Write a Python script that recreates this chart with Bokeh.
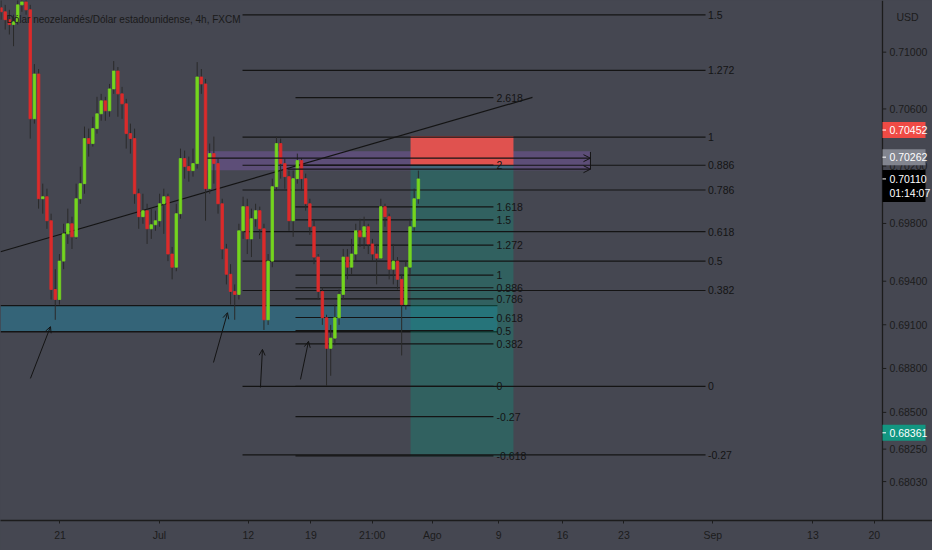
import math
from bokeh.plotting import figure
from bokeh.models import (Range1d, FixedTicker, Label, Arrow, OpenHead, ColumnDataSource)
from bokeh.core.properties import value
from bokeh.embed import file_html
from bokeh.resources import INLINE

BG = "#454751"
FONT = "Liberation Sans"
INK = "#141414"
AXIS_INK = "#1c1c1c"

# ---------------- data: NZD/USD candles -------------
first_open = 0.71314
closes = [
    0.71286, 0.71230, 0.71195, 0.71216, 0.71335, 0.71356, 0.71300, 0.70531, 0.70846, 0.69972,
    0.69986, 0.69819, 0.69343, 0.69274, 0.69539, 0.69728, 0.69798, 0.69707, 0.69972, 0.70077,
    0.70392, 0.70357, 0.70462, 0.70566, 0.70657, 0.70587, 0.70741, 0.70867, 0.70706, 0.70636,
    0.70427, 0.70392, 0.70007, 0.69847, 0.69889, 0.69763, 0.69791, 0.69819, 0.69937, 0.69986,
    0.69588, 0.69497, 0.69868, 0.70252, 0.70196, 0.70168, 0.70217, 0.70825, 0.70776, 0.70042,
    0.70287, 0.70217, 0.69937, 0.69623, 0.69448, 0.69329, 0.69309, 0.69749, 0.69917, 0.69693,
    0.69833, 0.69889, 0.69763, 0.69134, 0.69539, 0.70056, 0.70357, 0.70217, 0.70126, 0.69819,
    0.70112, 0.70238, 0.70112, 0.69937, 0.69777, 0.69567, 0.69329, 0.69148, 0.68938, 0.69008,
    0.69148, 0.69309, 0.69567, 0.69497, 0.69588, 0.69749, 0.69707, 0.69777, 0.69658, 0.69588,
    0.69560, 0.69917, 0.69847, 0.69483, 0.69539, 0.69413, 0.69239, 0.69497, 0.69777, 0.69972,
    0.70110]
highs = [
    0.71370, 0.71335, 0.71300, 0.71265, 0.71405, 0.71426, 0.71405, 0.71335, 0.70916, 0.70881,
    0.70077, 0.70042, 0.69868, 0.69483, 0.69588, 0.69798, 0.69903, 0.69847, 0.70077, 0.70196,
    0.70476, 0.70462, 0.70545, 0.70685, 0.70706, 0.70685, 0.70776, 0.70937, 0.70895, 0.70755,
    0.70671, 0.70497, 0.70462, 0.70042, 0.70007, 0.69937, 0.69903, 0.69889, 0.70007, 0.70042,
    0.70007, 0.69637, 0.69937, 0.70322, 0.70308, 0.70266, 0.70322, 0.70930, 0.70881, 0.70811,
    0.70357, 0.70406, 0.70252, 0.69972, 0.69658, 0.69518, 0.69378, 0.69798, 0.69986, 0.69972,
    0.69903, 0.69937, 0.69917, 0.69798, 0.69588, 0.70112, 0.70406, 0.70392, 0.70252, 0.70168,
    0.70168, 0.70287, 0.70252, 0.70147, 0.69972, 0.69819, 0.69588, 0.69357, 0.69169, 0.69099,
    0.69239, 0.69343, 0.69623, 0.69623, 0.69693, 0.69798, 0.69833, 0.69847, 0.69798, 0.69693,
    0.69658, 0.69972, 0.69937, 0.69868, 0.69658, 0.69567, 0.69448, 0.69539, 0.69833, 0.70042,
    0.70168]
lows = [
    0.71230, 0.71160, 0.71125, 0.71042, 0.71195, 0.71286, 0.71265, 0.70392, 0.70497, 0.69903,
    0.69868, 0.69763, 0.69274, 0.69134, 0.69239, 0.69483, 0.69658, 0.69623, 0.69693, 0.69937,
    0.70007, 0.70266, 0.70336, 0.70427, 0.70517, 0.70517, 0.70545, 0.70706, 0.70545, 0.70531,
    0.70322, 0.70287, 0.69937, 0.69763, 0.69798, 0.69658, 0.69693, 0.69749, 0.69777, 0.69728,
    0.69539, 0.69413, 0.69469, 0.69833, 0.70112, 0.70091, 0.70126, 0.70182, 0.70706, 0.69819,
    0.70007, 0.70077, 0.69868, 0.69553, 0.69378, 0.69239, 0.69134, 0.69274, 0.69693, 0.69588,
    0.69567, 0.69777, 0.69693, 0.69064, 0.69099, 0.69497, 0.70028, 0.70112, 0.70042, 0.69749,
    0.69707, 0.70077, 0.70028, 0.69889, 0.69721, 0.69518, 0.69274, 0.69099, 0.68680, 0.68750,
    0.68959, 0.69099, 0.69274, 0.69413, 0.69448, 0.69539, 0.69637, 0.69623, 0.69588, 0.69539,
    0.69378, 0.69553, 0.69777, 0.69413, 0.69378, 0.69343, 0.68889, 0.69204, 0.69448, 0.69749,
    0.69937]
bar_start = -4.75          # trading days after Mon 21 Jun
bars_per_day = 3

# time axis (trading days after 21 Jun) and labels
x_tick_pos = [-0.04, 7.9, 15.0, 20.0, 24.9, 29.7, 35.0, 40.1, 45.0, 52.1, 60.1, 65.0]
x_tick_labels = ["21", "Jul", "12", "19", "21:00", "Ago", "9", "16", "23", "Sep", "13", "20"]
y_ticks = [0.71, 0.706, 0.702, 0.698, 0.694, 0.691, 0.688, 0.685, 0.6825, 0.6803]
y_tick_labels = ["0.71000", "0.70600", "0.70200", "0.69800", "0.69400", "0.69100",
                 "0.68800", "0.68500", "0.68250", "0.68030"]

# drawings
fib1_start, fib1_end, fib1_p0, fib1_p1 = 14.54, 51.52, 0.68677, 0.70402
fib1_levels = [1.5, 1.272, 1, 0.886, 0.786, 0.618, 0.5, 0.382, 0, -0.27]
fib1_text = ["1.5", "1.272", "1", "0.886", "0.786", "0.618", "0.5", "0.382", "0", "-0.27"]
fib2_start, fib2_end, fib2_p0, fib2_p1 = 18.77, 34.58, 0.68677, 0.69442
fib2_levels = [2.618, 2, 1.618, 1.5, 1.272, 1, 0.886, 0.786, 0.618, 0.5, 0.382, 0, -0.27, -0.618]
fib2_text = ["2.618", "2", "1.618", "1.5", "1.272", "1", "0.886", "0.786", "0.618", "0.5",
             "0.382", "0", "-0.27", "-0.618"]
trend_x = [-4.79, 37.7]
trend_p = [0.69604, 0.70681]
zone_x = [-4.79, 34.9]
zone_p = [0.69052, 0.69231]
band_x = [11.74, 42.33]
band_p = [0.70171, 0.70304]
band_arrow_x0 = [11.74, 18.13]
band_arrow_p = [0.70255, 0.70178]
stop_x = [27.96, 36.18]
stop_p = [0.70207, 0.70409]
target_p = [0.68200, 0.70207]
arrows = [(-2.40, 0.68732, -0.80, 0.69087), (12.22, 0.68841, 13.34, 0.69183),
          (15.97, 0.68670, 16.13, 0.68931), (19.17, 0.68725, 19.81, 0.68986)]
tag_text = ["0.70452", "0.70262", "0.68361"]
tag_price = [0.70452, 0.70262, 0.68361]
tag_color = ["#ef4b45", "#82858f", "#129681"]
last_price, countdown = 0.70110, "01:14:07"
price_axis_x = 65.655       # where the price scale starts
tag_right_x = 69.09
usd_pos = (67.65, 0.71252)

# ---------------- figure ----------------
X0, X1 = -4.792, 69.649
YB, YT = 0.67767, 0.71366
PX_PER_LN = 520 / math.log(YT / YB)     # vertical pixels per unit of ln(price)


def shift(price, px):
    """price that lies px screen pixels below `price` on the log scale"""
    return price * math.exp(-px / PX_PER_LN)


p = figure(width=932, height=550, x_range=Range1d(X0, X1), y_range=Range1d(YB, YT),
           y_axis_type="log", y_axis_location=None, output_backend="svg",
           toolbar_location=None, min_border_left=0, min_border_top=0,
           min_border_right=0, min_border_bottom=30)
p.background_fill_color = BG
p.border_fill_color = BG
p.outline_line_color = None
p.xgrid.visible = False
p.ygrid.visible = False

ax = p.xaxis[0]
ax.axis_line_color = AXIS_INK
ax.axis_line_width = 1.3
ax.major_tick_line_color = AXIS_INK
ax.major_tick_in = 0
ax.major_tick_out = 3
ax.minor_tick_line_color = None
ax.major_label_text_font = FONT
ax.major_label_text_font_size = "10.5px"
ax.major_label_text_color = AXIS_INK
ax.major_label_standoff = 5
ax.ticker = FixedTicker(ticks=x_tick_pos)
ax.major_label_overrides = {t: s for t, s in zip(x_tick_pos, x_tick_labels)}

# boxes under candles
p.quad(left=[zone_x[0]], right=[zone_x[1]], bottom=[zone_p[0]], top=[zone_p[1]],
       fill_color="#1e88a8", fill_alpha=0.45, line_color=None)
p.segment(x0=[zone_x[0]] * 2, x1=[zone_x[1]] * 2, y0=zone_p, y1=zone_p,
          line_color=INK, line_width=1.3)
p.quad(left=[band_x[0]], right=[band_x[1]], bottom=[band_p[0]], top=[band_p[1]],
       fill_color="#8a5cc4", fill_alpha=0.35, line_color=None)
p.quad(left=[stop_x[0]], right=[stop_x[1]], bottom=[stop_p[0]], top=[stop_p[1]],
       fill_color="#e0524f", fill_alpha=1.0, line_color=None)
p.quad(left=[stop_x[0]], right=[stop_x[1]], bottom=[target_p[0]], top=[target_p[1]],
       fill_color="#089981", fill_alpha=0.32, line_color=None)

# fib sets
def fib(start, end, p0, p1, levels, texts, lab_x):
    prices = [p0 + r * (p1 - p0) for r in levels]
    p.segment(x0=[start] * len(prices), x1=[end] * len(prices), y0=prices, y1=prices,
              line_color=INK, line_width=1.2)
    p.text(x=[lab_x] * len(prices), y=prices, text=texts, text_font=value(FONT),
           text_font_size="10.5px", text_color=INK, text_baseline="middle", text_align="left")

fib(fib1_start, fib1_end, fib1_p0, fib1_p1, fib1_levels, fib1_text, fib1_end + 0.2)
fib(fib2_start, fib2_end, fib2_p0, fib2_p1, fib2_levels, fib2_text, fib2_end + 0.25)

# trend line
p.line(trend_x, trend_p, line_color=INK, line_width=1.2)

# candles
n = len(closes)
opens = [first_open] + closes[:-1]
xs = [bar_start + i / bars_per_day for i in range(n)]
up = [c >= o for o, c in zip(opens, closes)]
src = ColumnDataSource(dict(
    x=xs, high=highs, low=lows,
    top=[max(o, c) for o, c in zip(opens, closes)],
    bottom=[min(o, c) for o, c in zip(opens, closes)],
    color=["#74d61e" if u else "#dc2b2b" for u in up]))
p.segment(x0="x", x1="x", y0="low", y1="high", source=src, line_color="#2a2a2a", line_width=1)
p.vbar(x="x", width=0.2, top="top", bottom="bottom", source=src,
       fill_color="color", line_color="color", line_width=0.8)

# purple range arrows
for x0, yp in zip(band_arrow_x0, band_arrow_p):
    p.add_layout(Arrow(end=OpenHead(size=7, line_color=INK, line_width=1),
                       x_start=x0, y_start=yp, x_end=band_x[1], y_end=yp,
                       line_color=INK, line_width=1.2))
p.segment(x0=[band_x[1]], x1=[band_x[1]], y0=[band_p[0] + 0.00005], y1=[band_p[1] - 0.00005],
          line_color=INK, line_width=1)

# hand-drawn arrows
for xa, ya, xb, yb in arrows:
    p.add_layout(Arrow(end=OpenHead(size=6, line_color=INK, line_width=1),
                       x_start=xa, y_start=ya, x_end=xb, y_end=yb,
                       line_color=INK, line_width=1))

# price scale on the right (drawn inside the frame)
p.segment(x0=[price_axis_x], x1=[price_axis_x], y0=[YB], y1=[YT], line_color=AXIS_INK,
          line_width=1.3)
p.segment(x0=[price_axis_x] * len(y_ticks), x1=[price_axis_x + 0.3] * len(y_ticks),
          y0=y_ticks, y1=y_ticks, line_color=AXIS_INK, line_width=1)
p.text(x=[price_axis_x + 0.55] * len(y_ticks), y=y_ticks, text=y_tick_labels,
       text_font=value(FONT), text_font_size="10.5px", text_color=AXIS_INK,
       text_baseline="middle", text_align="left")
p.text(x=[usd_pos[0]], y=[usd_pos[1]], text=["USD"], text_font=value(FONT),
       text_font_size="10.5px", text_color=AXIS_INK, text_baseline="middle", text_align="center")

# price tags on the scale
n_t = len(tag_price)
p.quad(left=[price_axis_x] * n_t, right=[tag_right_x] * n_t,
       top=[shift(v, -8) for v in tag_price], bottom=[shift(v, 8) for v in tag_price],
       fill_color=tag_color, line_color=None)
p.quad(left=[price_axis_x], right=[tag_right_x], top=[shift(last_price, -9)],
       bottom=[shift(last_price, 23)], fill_color="#000000", line_color=None)
p.segment(x0=[price_axis_x] * (n_t + 1), x1=[price_axis_x + 0.28] * (n_t + 1),
          y0=tag_price + [last_price], y1=tag_price + [last_price], line_color="white",
          line_width=1)
p.text(x=[price_axis_x + 0.55] * (n_t + 2), y=tag_price + [last_price, shift(last_price, 14)],
       text=tag_text + ["%.5f" % last_price, countdown], text_font=value(FONT),
       text_font_size="10.5px", text_color="white", text_baseline="middle", text_align="left")

# title
p.add_layout(Label(x=X0, y=0.71231, x_offset=6, text="Dólar neozelandés/Dólar estadounidense, 4h, FXCM",
                   text_font=FONT, text_font_size="10px", text_color="#1a1a1a",
                   text_baseline="middle", text_align="left"))

html = file_html(p, INLINE, title="NZDUSD 4h")
html = html.replace("<head>", "<head><style>html,body{background:%s;}</style>" % BG, 1)
open("out.html", "w").write(html)
